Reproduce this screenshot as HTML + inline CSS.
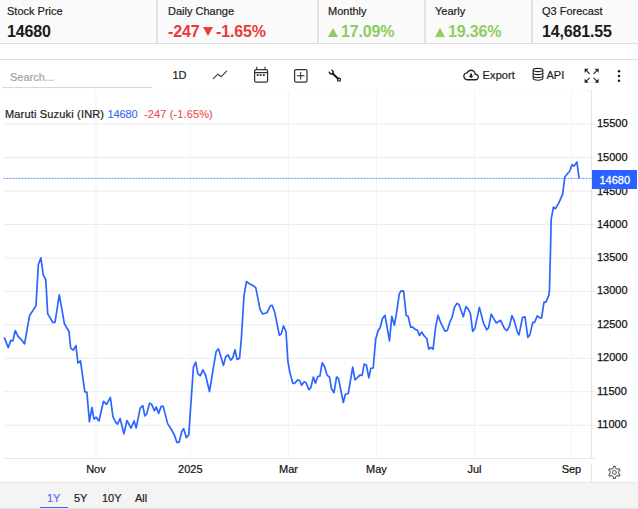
<!DOCTYPE html>
<html><head><meta charset="utf-8">
<style>
*{margin:0;padding:0;box-sizing:border-box}
html,body{width:638px;height:509px;overflow:hidden;background:#fff;font-family:"Liberation Sans",sans-serif;color:#222}
.abs{position:absolute}
#hdr{position:absolute;left:0;top:0;width:638px;height:44px;background:#fafafa;border-bottom:1px solid #dcdcdc}
.cell{position:absolute;top:0;height:43px}
.sep{position:absolute;top:0;width:2px;height:43px;background:#e2e2e2}
.lab{position:absolute;top:4px;font-size:11px;line-height:14px;color:#1a1a1a;white-space:nowrap;-webkit-text-stroke:0.2px #1a1a1a}
.val{position:absolute;top:22px;font-size:16px;letter-spacing:-0.15px;line-height:20px;font-weight:bold;white-space:nowrap}
.red{color:#ea3a3a}
.tri{position:absolute;width:0;height:0;border-left:5px solid transparent;border-right:5px solid transparent}
.dn{border-top:9px solid #ea3a3a}
.up{border-bottom:9px solid #8bcd62}
.grn{color:#8bcd62}
#tbline{position:absolute;left:0;top:59px;width:638px;height:1px;background:#dedede}
.tb{position:absolute;font-size:11px;line-height:14px;color:#333;white-space:nowrap;-webkit-text-stroke:0.2px currentColor}
.yl{position:absolute;left:597px;width:40px;font-size:11px;line-height:15px;color:#111;-webkit-text-stroke:0.25px #111}
.xl{position:absolute;top:462px;width:60px;text-align:center;font-size:11px;line-height:14px;color:#111;-webkit-text-stroke:0.2px #111}
#bot{position:absolute;left:0;top:482px;width:638px;height:27px;background:#f4f4f4;border-top:1px solid #e7e7e7}
.rb{position:absolute;top:8px;font-size:11px;line-height:14px;color:#222;-webkit-text-stroke:0.2px currentColor}
</style></head><body>
<div id="hdr">
  <div class="lab" style="left:7px">Stock Price</div>
  <div class="val" style="left:7px;color:#1a1a1a">14680</div>
  <div class="sep" style="left:156px"></div>
  <div class="lab" style="left:168px">Daily Change</div>
  <div class="val red" style="left:168px">-247</div>
  <div class="tri dn" style="left:203px;top:27px"></div>
  <div class="val red" style="left:216px">-1.65%</div>
  <div class="sep" style="left:317px"></div>
  <div class="lab" style="left:328px">Monthly</div>
  <div class="tri up" style="left:328px;top:28px"></div>
  <div class="val grn" style="left:341px">17.09%</div>
  <div class="sep" style="left:424px"></div>
  <div class="lab" style="left:435px">Yearly</div>
  <div class="tri up" style="left:435px;top:28px"></div>
  <div class="val grn" style="left:448px">19.36%</div>
  <div class="sep" style="left:531px"></div>
  <div class="lab" style="left:542px">Q3 Forecast</div>
  <div class="val" style="left:542px;color:#1a1a1a">14,681.55</div>
</div>
<div id="tbline"></div>
<div class="tb" style="left:10px;top:70px;color:#a3a3a3">Search...</div>
<div class="abs" style="left:2px;top:87px;width:150px;height:1px;background:#d6d9d9"></div>
<div class="tb" style="left:172.5px;top:68px;color:#222">1D</div>
<svg class="abs" style="left:0;top:0" width="638" height="509" viewBox="0 0 638 509">
  <g fill="none" stroke="#3a3a3a" stroke-width="1.15" stroke-linecap="round" stroke-linejoin="round">
    <polyline points="213.2,78.6 217.9,74.2 221.2,76.7 226.6,71.1"/>
  </g>
  <g fill="none" stroke="#333" stroke-width="1.25">
    <rect x="254.6" y="69.6" width="13" height="12.6" rx="1.6"/>
    <line x1="254.6" y1="72.6" x2="267.6" y2="72.6"/>
    <line x1="256.7" y1="66.8" x2="256.7" y2="69.6" stroke-width="1.1"/>
    <line x1="265" y1="66.8" x2="265" y2="69.6" stroke-width="1.1"/>
    <rect x="294.6" y="69.6" width="12.4" height="12.4" rx="1.4"/>
    <line x1="297" y1="75.7" x2="304.5" y2="75.7" stroke-width="1.1"/>
    <line x1="300.7" y1="72" x2="300.7" y2="79.6" stroke-width="1.1"/>
  </g>
  <g fill="#333">
    <rect x="256.8" y="74.1" width="1.8" height="1.9"/>
    <rect x="259.7" y="74.1" width="1.8" height="1.9"/>
    <rect x="262.9" y="74.1" width="1.8" height="1.9"/>
  </g>
  <g fill="none" stroke="#1a1a2a" stroke-linecap="round">
    <line x1="332.6" y1="73.6" x2="337.9" y2="78.5" stroke-width="2"/>
    <path d="M329.3 72.2 Q330 74.6 332.6 73.9 Q334.4 72.3 332 70.2" stroke-width="1.5"/>
    <circle cx="339" cy="79.7" r="1.5" stroke-width="1.3"/>
  </g>
  <!-- cloud -->
  <path transform="translate(463.2 66.8) scale(0.655 0.68)" fill="#222" d="M19.35 10.04C18.67 6.59 15.64 4 12 4 9.11 4 6.6 5.64 5.35 8.04 2.34 8.36 0 10.91 0 14c0 3.31 2.69 6 6 6h13c2.76 0 5-2.24 5-5 0-2.64-2.05-4.78-4.65-4.96zM19 18H6c-2.21 0-4-1.79-4-4 0-2.05 1.53-3.76 3.56-3.97l1.07-.11.5-.95C8.08 7.14 9.94 6 12 6c2.62 0 4.88 1.86 5.39 4.43l.3 1.5 1.53.11c1.56.1 2.78 1.41 2.78 2.96 0 1.65-1.35 3-3 3zm-5.55-8h-2.9v3H8l4 4 4-4h-2.55z"/>
  <!-- database -->
  <g fill="none" stroke="#222" stroke-width="1.1">
    <ellipse cx="538" cy="70" rx="4.8" ry="1.6"/>
    <path d="M533.2 70 V78.6 A4.8 1.6 0 0 0 542.8 78.6 V70"/>
    <path d="M533.2 73 A4.8 1.6 0 0 0 542.8 73"/>
    <path d="M533.2 75.9 A4.8 1.6 0 0 0 542.8 75.9"/>
  </g>
  <!-- fullscreen -->
  <g fill="#222">
    <path d="M584.6 68.8 H588.6 L584.6 72.8 Z"/>
    <path d="M598.6 68.8 H594.6 L598.6 72.8 Z"/>
    <path d="M584.6 82.8 H588.6 L584.6 78.8 Z"/>
    <path d="M598.6 82.8 H594.6 L598.6 78.8 Z"/>
  </g>
  <g stroke="#222" stroke-width="1.1">
    <line x1="586" y1="70.2" x2="589.6" y2="73.8"/>
    <line x1="597.2" y1="70.2" x2="593.6" y2="73.8"/>
    <line x1="586" y1="81.4" x2="589.6" y2="77.8"/>
    <line x1="597.2" y1="81.4" x2="593.6" y2="77.8"/>
  </g>
  <g fill="#1a1a1a">
    <circle cx="619" cy="71.3" r="1.25"/>
    <circle cx="619" cy="76" r="1.25"/>
    <circle cx="619" cy="80.7" r="1.25"/>
  </g>
  <!-- grid -->
  <g stroke="#ececec" stroke-width="1"><line x1="4" y1="124.10" x2="595" y2="124.10"/><line x1="4" y1="157.56" x2="595" y2="157.56"/><line x1="4" y1="191.02" x2="595" y2="191.02"/><line x1="4" y1="224.48" x2="595" y2="224.48"/><line x1="4" y1="257.94" x2="595" y2="257.94"/><line x1="4" y1="291.40" x2="595" y2="291.40"/><line x1="4" y1="324.86" x2="595" y2="324.86"/><line x1="4" y1="358.32" x2="595" y2="358.32"/><line x1="4" y1="391.78" x2="595" y2="391.78"/><line x1="4" y1="425.24" x2="595" y2="425.24"/></g>
  <g stroke="#edf4fb" stroke-width="1"><line x1="95.94" y1="90" x2="95.94" y2="458"/><line x1="190.33" y1="90" x2="190.33" y2="458"/><line x1="288.57" y1="90" x2="288.57" y2="458"/><line x1="376.41" y1="90" x2="376.41" y2="458"/><line x1="474.53" y1="90" x2="474.53" y2="458"/><line x1="571.43" y1="90" x2="571.43" y2="458"/></g>
  <line x1="0" y1="90.5" x2="591" y2="90.5" stroke="#fafafa"/>
  <line x1="591.5" y1="90" x2="591.5" y2="458.5" stroke="#e6e6e6"/>
  <line x1="591.5" y1="464" x2="591.5" y2="482" stroke="#e6e6e6"/>
  <line x1="4" y1="458.5" x2="595" y2="458.5" stroke="#e6e6e6"/>
  <!-- price line -->
  <line x1="3.5" y1="178.4" x2="592" y2="178.4" stroke="#6591f8" stroke-width="1" stroke-dasharray="2 1"/>
  <path d="M4.3 337.4 L8.25 347.6 L10.8 340.4 L12.8 341 L15.3 330.5 L18 336.4 L21.2 339.4 L24.6 343.9 L29.5 315.8 L36 305.6 L38.3 264.7 L40.9 257.9 L43.2 274.6 L45.8 279.9 L47.7 313.9 L52.7 322.3 L55 322.3 L59.3 294.8 L64.4 323.7 L69 331.5 L70.7 348.1 L73.3 350.2 L75.9 345.6 L77.9 363 L80.5 360.9 L84.8 391.6 L86.9 392.4 L89.4 421.8 L92 407.5 L94 419.2 L96.3 417.2 L98.9 421 L103.5 401.3 L106.5 404.4 L110.4 397.5 L112.9 416.7 L115.8 422.3 L117.5 424.1 L120.1 418.5 L123.9 433.8 L127 420.5 L131 428.2 L134.1 421 L136.2 427.9 L140.2 408.2 L142.8 405.7 L144.8 415.9 L146.6 414.1 L149.7 403.1 L151.7 404.4 L154.3 410.8 L156.3 407 L158.6 413.4 L161.2 406.4 L163.2 406.4 L167.6 423.6 L171.4 429.5 L174.2 434.6 L176.8 442.3 L179.1 442.3 L181.9 431.3 L183.7 428.7 L186.3 437.6 L188.8 434.6 L193.4 367.3 L195.7 362.2 L197.8 373.7 L200.3 375.8 L202.9 369.9 L205.5 375 L209.5 391.5 L214.1 363.4 L216.1 351.8 L218.4 348.8 L221 357 L223.5 365.4 L225.6 357 L228.1 354.9 L230.7 360 L232.7 358.2 L235 349.8 L237.1 359.5 L239.6 358.2 L241.4 337.8 L244 295.6 L246.5 281.5 L249.9 284.1 L253.7 285.9 L255.8 287.9 L260.1 309.6 L262.7 314 L267 312.7 L270.3 305.8 L272.1 305.3 L274.7 312.2 L279.3 335.2 L281.3 333.9 L283.5 325.8 L286 331.6 L287.9 361.3 L289.8 372.1 L292.8 383.3 L294.7 383.3 L297.7 379.9 L299.6 380.5 L301.6 385.2 L304 381.9 L305.9 382.5 L308.9 389.7 L310.8 387.8 L313.4 377 L315.4 383.3 L317.7 376.6 L319.9 376 L322.2 362.8 L324.6 366.8 L327.2 375.4 L329.5 377 L331.5 388.8 L334 392.7 L336.6 377 L338.5 378.5 L343.3 402.5 L345.4 394.3 L348.3 393.5 L352.7 367.2 L355 379.9 L358 377 L360.2 375 L362.1 375.4 L364.2 364.2 L366.4 365.1 L368.8 377.8 L370.8 368.4 L373.2 368 L375.7 338.9 L378.1 330.7 L380.2 327.5 L382.6 318.3 L385 315.4 L389.5 340.9 L391.8 316.3 L394.4 325.2 L396.3 314.4 L399.3 293.8 L401.3 290.8 L403.6 291.2 L406.2 315.4 L408.1 316.3 L410.7 327.2 L412.7 327.2 L415.4 329.5 L417.4 330.1 L419.5 335.4 L421.9 332.1 L423.9 335.6 L426.8 338.5 L428.8 349.2 L430.7 347.4 L433.1 349.2 L435.6 327.2 L438 315.4 L440.9 323.2 L444.9 331.1 L447.3 330.5 L449.7 322.4 L452 317.5 L454.5 307.4 L456.8 303.3 L459.1 304.7 L463.3 316.7 L466 306.5 L468.3 309.2 L470.4 313.6 L472.7 331.3 L474.8 328.6 L479.4 307.4 L483.6 323.3 L486.8 329.8 L488.6 327.7 L491.2 314.1 L496.2 322.9 L500.6 320.3 L504.5 328.6 L506.8 330.7 L509.3 326.8 L511.9 315.7 L514.2 320.6 L517.2 331.6 L519 334.8 L522.5 317.5 L525 316.8 L527.8 337.4 L529.8 334.9 L532.8 322.3 L534.7 322.3 L537.3 315.8 L539.6 317.8 L541.6 317.8 L544 302.1 L545.9 302.1 L548.9 295.2 L549.5 289.3 L550.5 250 L551.2 219.1 L553.4 207.2 L555.5 208.7 L558.8 202.9 L562.6 194.3 L564.8 177 L567 174.2 L569.6 171.2 L572.1 164.7 L573.9 166.2 L576.9 162 L579.1 178.3" fill="none" stroke="#2d66ff" stroke-width="1.7" stroke-linejoin="round"/>
  <!-- gear -->
  <g transform="translate(614.4 472.4)" fill="none" stroke="#666" stroke-width="1.1" stroke-linejoin="round">
    <path d="M-2.15 -3.72 L-1.03 -4.48 L-0.95 -6.02 L0.95 -6.02 L1.03 -4.48 L2.15 -3.72 L3.36 -3.14 L4.74 -3.84 L5.69 -2.19 L4.40 -1.34 L4.30 0.00 L4.40 1.34 L5.69 2.19 L4.74 3.84 L3.36 3.14 L2.15 3.72 L1.03 4.48 L0.95 6.02 L-0.95 6.02 L-1.03 4.48 L-2.15 3.72 L-3.36 3.14 L-4.74 3.84 L-5.69 2.19 L-4.40 1.34 L-4.30 -0.00 L-4.40 -1.34 L-5.69 -2.19 L-4.74 -3.84 L-3.36 -3.14 Z"/>
    <circle cx="0" cy="0" r="1.9"/>
  </g>
</svg>
<div class="tb" style="left:482.6px;top:68px;color:#222;letter-spacing:0.1px">Export</div>
<div class="tb" style="left:546.5px;top:68px;color:#222">API</div>
<div class="abs" style="left:5px;top:107px;font-size:11px;line-height:14px;white-space:nowrap;color:#1a1a1a;letter-spacing:0.17px;-webkit-text-stroke:0.2px #1a1a1a">Maruti Suzuki (INR)</div>
<div class="abs" style="left:107.5px;top:107px;font-size:11px;line-height:14px;white-space:nowrap;color:#3a6df0;letter-spacing:-0.1px;-webkit-text-stroke:0.15px #3a6df0">14680</div>
<div class="abs" style="left:144px;top:107px;font-size:11px;line-height:14px;white-space:nowrap;color:#ef5350;letter-spacing:0.12px;-webkit-text-stroke:0.15px #ef5350">-247 (-1.65%)</div>
<div class="yl" style="top:116.1px">15500</div><div class="yl" style="top:149.6px">15000</div><div class="yl" style="top:216.5px">14000</div><div class="yl" style="top:249.9px">13500</div><div class="yl" style="top:283.4px">13000</div><div class="yl" style="top:316.9px">12500</div><div class="yl" style="top:350.3px">12000</div><div class="yl" style="top:383.8px">11500</div><div class="yl" style="top:417.2px">11000</div><div class="yl" style="top:183.5px">14500</div>
<div class="abs" style="left:592px;top:170px;width:45px;height:19px;background:#2962ff;color:#fff;font-size:11px;line-height:19px;padding-left:7.5px;padding-top:0.5px;-webkit-text-stroke:0.3px #fff">14680</div>
<div class="xl" style="left:65.94px">Nov</div><div class="xl" style="left:160.33px">2025</div><div class="xl" style="left:258.57px">Mar</div><div class="xl" style="left:346.41px">May</div><div class="xl" style="left:444.53px">Jul</div><div class="xl" style="left:541.43px">Sep</div>
<div id="bot">
  <div class="rb" style="left:47px;color:#4f6ef7">1Y</div>
  <div class="abs" style="left:40px;top:24px;width:28px;height:1.3px;background:#3f63f7"></div>
  <div class="abs" style="left:0;top:25px;width:638px;height:1px;background:#e3e3e3"></div>
  <div class="rb" style="left:74px">5Y</div>
  <div class="rb" style="left:102px">10Y</div>
  <div class="rb" style="left:135px">All</div>
</div>
</body></html>
